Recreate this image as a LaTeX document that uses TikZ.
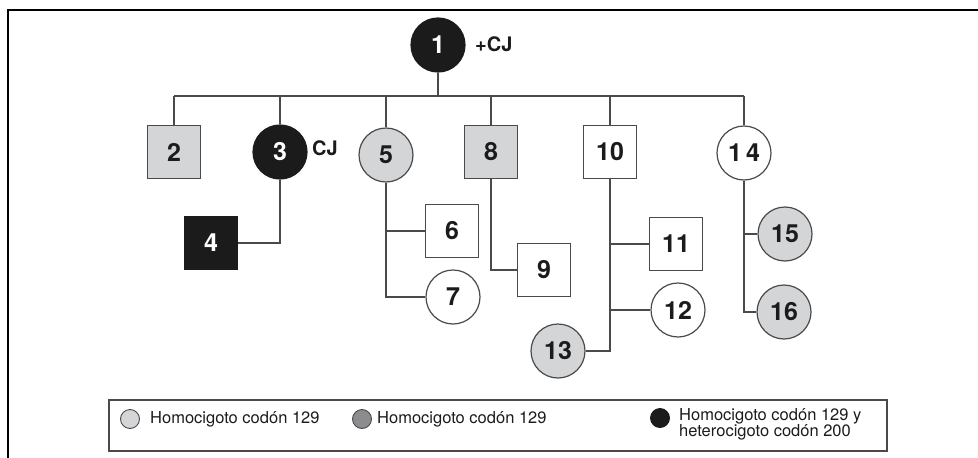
\documentclass[tikz,border=0pt]{standalone}
\usepackage{fontspec}
\setmainfont{TeX Gyre Heros}
\definecolor{lgray}{HTML}{D4D5D7}
\definecolor{dgray}{HTML}{8C8C8E}
\definecolor{edge}{HTML}{4A4A4A}
\definecolor{nblack}{HTML}{1B1B1B}
\begin{document}
\begin{tikzpicture}[x=1pt,y=-1pt,
  base/.style={draw=edge,line width=1.2pt,inner sep=0pt,font=\fontsize{25}{25}\selectfont\bfseries,text=nblack},
  sq/.style={base,rectangle,minimum size=53pt},
  ci/.style={base,circle,minimum size=54pt},
  lightf/.style={fill=lgray},
  whitef/.style={fill=white},
  blackf/.style={fill=nblack,draw=nblack,text=white},
  conn/.style={draw=edge,line width=1.1pt},
  lab/.style={font=\fontsize{20}{20}\selectfont\bfseries,text=nblack,inner sep=0pt,anchor=west},
  legtxt/.style={font=\fontsize{16.5}{16}\selectfont,text=nblack,inner sep=0pt,anchor=west,align=left},
  legdot/.style={circle,draw=edge,line width=0.9pt,minimum size=19pt,inner sep=0pt}
]
\useasboundingbox (0,0) rectangle (978,458);
% frame
\draw[line width=2.6pt,black] (8,458) -- (8,10) -- (978,10);

% nodes
\node[ci,blackf] (n1) at (438,45) {1};
\node[lab] (l1) at (475,44) {+CJ};
\node[sq,lightf] (n2) at (174,152) {2};
\node[ci,blackf] (n3) at (280,152) {3};
\node[lab] (l3) at (312,148) {CJ};
\node[ci,lightf] (n5) at (386,155) {5};
\node[sq,lightf] (n8) at (491,152) {8};
\node[sq,whitef] (n10) at (610,152) {10};
\node[ci,whitef] (n14) at (744,153) {1\,4};
\node[sq,blackf] (n4) at (211,243) {4};
\node[sq,whitef] (n6) at (452,231) {6};
\node[ci,whitef] (n7) at (453,297) {7};
\node[sq,whitef] (n9) at (544,270) {9};
\node[sq,whitef] (n11) at (676,244) {11};
\node[ci,whitef] (n12) at (678,310) {12};
\node[ci,lightf] (n13) at (558,351) {13};
\node[ci,lightf] (n15) at (785,234) {15};
\node[ci,lightf] (n16) at (784,312) {16};

% sibling bar
\coordinate (barL) at (174,96);
\coordinate (barR) at (744,96);
\draw[conn] (barL) -- (barR);
\draw[conn] (n1.south) -- (n1.south |- barL);
\foreach \n in {n2,n3,n5,n8,n10,n14}
  \draw[conn] (\n.north) -- (\n.north |- barL);

% descendants
\draw[conn] (n3.south) |- (n4.east);
\draw[conn] (n5.south) |- (n7.west);
\draw[conn] (n5.south |- n6.west) -- (n6.west);
\draw[conn] (n8.south) |- (n9.west);
\draw[conn] (n10.south) |- (n13.east);
\draw[conn] (n10.south |- n11.west) -- (n11.west);
\draw[conn] (n10.south |- n12.west) -- (n12.west);
\draw[conn] (n14.south) |- (n16.west);
\draw[conn] (n14.south |- n15.west) -- (n15.west);

% legend
\node[draw=edge,line width=1.2pt,minimum width=778pt,minimum height=51pt,inner sep=0pt] (leg) at (498,425.5) {};
\node[legdot,fill=lgray] (d1) at (130,419) {};
\node[legtxt] (t1) at (150,419) {Homocigoto codón 129};
\node[legdot,fill=dgray] (d2) at (362,419) {};
\node[legtxt] (t2) at (377,419) {Homocigoto codón 129};
\node[legdot,fill=nblack,draw=nblack] (d3) at (660,418) {};
\node[legtxt,anchor=north west] (t3) at (679,408) {Homocigoto codón 129 y\\heterocigoto codón 200};
\end{tikzpicture}
\end{document}
